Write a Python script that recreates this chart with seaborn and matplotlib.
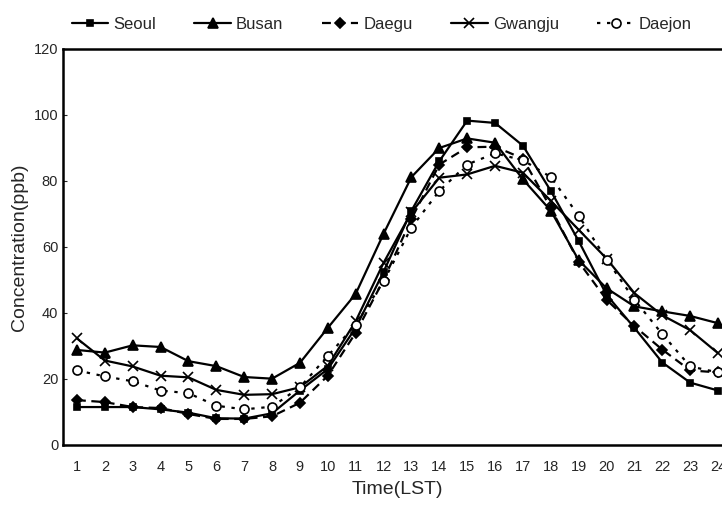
import numpy as np
import pandas as pd
import matplotlib
matplotlib.use("Agg")
import matplotlib.pyplot as plt
import seaborn as sns

# ============================================
# DATA
# ============================================
hours = list(range(1, 25))
cities = ["Seoul", "Busan", "Daegu", "Gwangju", "Daejon"]

seoul = [11.5, 11.5, 11.5, 10.8, 9.8, 8.1, 8.0, 9.6, 16.5, 23.0, 35.5, 52.5,
         71.0, 86.0, 98.3, 97.6, 90.7, 77.0, 61.8, 45.5, 35.5, 25.0, 18.9, 16.5]
busan = [28.8, 28.0, 30.2, 29.7, 25.4, 23.9, 20.6, 20.1, 24.9, 35.5, 45.8, 64.0,
         81.2, 90.0, 92.9, 91.6, 80.5, 71.0, 56.0, 47.5, 42.0, 40.5, 39.1, 36.9]
daegu = [13.6, 13.0, 11.5, 11.2, 9.4, 7.9, 7.9, 8.7, 12.8, 21.0, 34.0, 50.0,
         68.5, 85.0, 90.2, 90.4, 86.8, 71.8, 55.5, 44.0, 36.0, 28.9, 22.6, 22.0]
gwangju = [32.3, 25.6, 23.8, 21.0, 20.5, 16.7, 15.2, 15.4, 17.5, 24.0, 37.5, 55.2,
           70.5, 81.0, 82.0, 84.6, 82.5, 74.0, 65.2, 56.5, 46.0, 39.3, 34.8, 27.8]
daejon = [22.6, 20.8, 19.3, 16.5, 15.7, 11.9, 10.8, 11.6, 17.5, 27.0, 36.5, 49.6,
          65.9, 77.0, 85.0, 88.4, 86.3, 81.2, 69.5, 56.2, 44.0, 33.6, 23.8, 22.0]

series = {"Seoul": seoul, "Busan": busan, "Daegu": daegu,
          "Gwangju": gwangju, "Daejon": daejon}

df = pd.DataFrame([
    {"hour": h, "ppb": v, "city": c}
    for c in cities for h, v in zip(hours, series[c])
])

# ============================================
# STYLE
# ============================================
sns.set_style("ticks")
plt.rcParams["font.family"] = ["Liberation Sans", "DejaVu Sans"]

styles = {
    "Seoul":   dict(marker="s", ls="-", ms=4.5, mfc="black"),
    "Busan":   dict(marker="^", ls="-", ms=6.5, mfc="black"),
    "Daegu":   dict(marker="D", ls=(0, (4, 2.5)), ms=5, mfc="black"),
    "Gwangju": dict(marker="x", ls="-", ms=7, mfc="black"),
    "Daejon":  dict(marker="o", ls=(0, (1.5, 3)), ms=6.5, mfc="white"),
}

fig = plt.figure(figsize=(7.22, 5.07), dpi=100)
ax = fig.add_axes([63 / 722, 62 / 507, 669 / 722, 396 / 507])

for c in cities:
    st = styles[c]
    sns.lineplot(data=df[df["city"] == c], x="hour", y="ppb", ax=ax,
                 color="black", linewidth=1.6, linestyle=st["ls"],
                 marker=st["marker"], markersize=st["ms"],
                 markerfacecolor=st["mfc"], markeredgecolor="black",
                 markeredgewidth=1.2, label=c)

ax.set_xlim(0.5, 24.5)
ax.set_ylim(0, 120)
ax.set_xticks(hours)
ax.set_xticklabels([str(h) for h in hours], fontsize=10.5)
ax.set_yticks(range(0, 121, 20))
ax.tick_params(axis="y", labelsize=10.5, length=3, direction="in")
ax.tick_params(axis="x", length=0, pad=11)
for sp in ax.spines.values():
    sp.set_linewidth(1.8)
    sp.set_color("black")

ax.set_xlabel("Time(LST)", fontsize=14, labelpad=5)
ax.set_ylabel("Concentration(ppb)", fontsize=14, labelpad=4)

ax.legend(loc="lower left", bbox_to_anchor=(-0.012, 1.0), ncol=5, frameon=False,
          fontsize=12, handlelength=2.2, handletextpad=0.3,
          columnspacing=2.3, borderaxespad=0.6)

fig.savefig("out.png", dpi=100)
plt.close(fig)
